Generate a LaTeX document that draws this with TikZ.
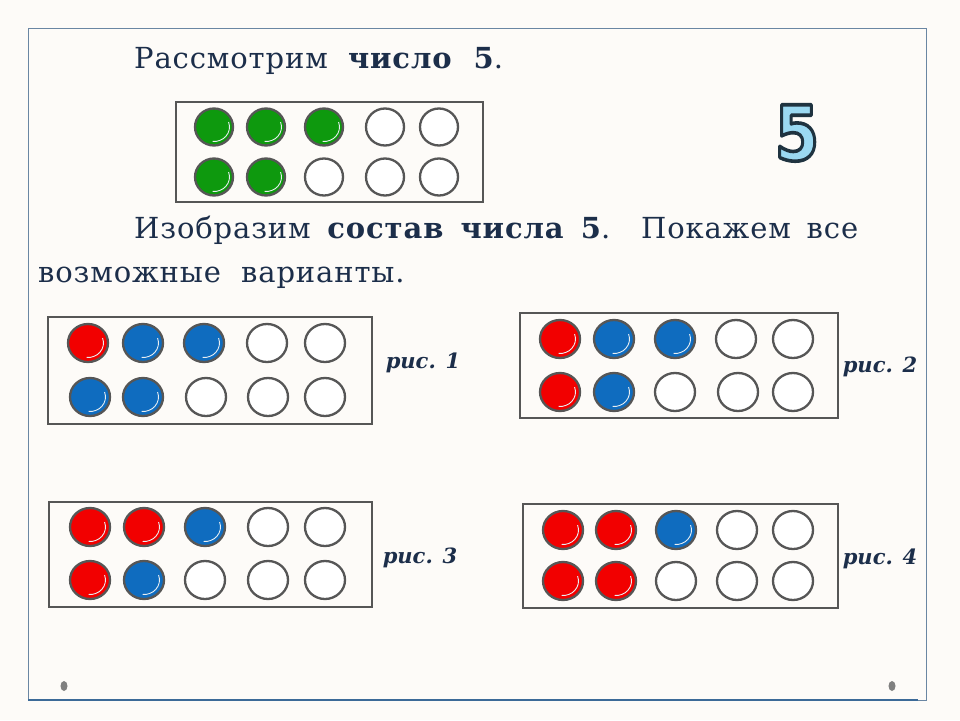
\documentclass[tikz,border=0pt]{standalone}
\usepackage{fontspec}
\setmainfont{DejaVu Serif}
\newfontfamily\bodyfont[LetterSpace=3]{DejaVu Serif}
\newfontfamily\numfont{DejaVu Sans}
\usetikzlibrary{shapes.geometric}
\definecolor{bg}{HTML}{FDFBF8}
\definecolor{framec}{HTML}{6A86A3}
\definecolor{framebot}{HTML}{3C6A98}
\definecolor{ink}{HTML}{1C2E4A}
\definecolor{rim}{HTML}{565656}
\definecolor{gr}{HTML}{0E990E}
\definecolor{rd}{HTML}{F20000}
\definecolor{bl}{HTML}{0F6CBF}
\definecolor{sky}{HTML}{9BD9F2}
\definecolor{dotc}{HTML}{808080}
\definecolor{W}{HTML}{FFFFFF}
\definecolor{shine}{HTML}{E8EEF2}
\newcommand\outlinedfive{{\color{sky}\special{pdf:code q 2 Tr 3.6 w 0.12 0.2 0.25 RG 1 j}5\special{pdf:code Q}}}
\begin{document}
\begin{tikzpicture}[x=1pt,y=-1pt,
  tenbox/.style={draw=rim,line width=2.3pt},
  chip/.style={ellipse,draw=rim,line width=2.3pt,minimum width=40pt,minimum height=38pt,inner sep=0pt},
  smallchip/.style={chip,minimum width=38pt,minimum height=37pt},
  shiny/.style={path picture={\draw[shine,line width=0.9pt]
      ([shift={(20:15.5pt and 14.5pt)}]path picture bounding box.center)
      arc[start angle=20,end angle=-95,x radius=15.5pt,y radius=14.5pt];}},
  body/.style={text=ink,inner sep=0pt,font=\fontsize{29}{35}\bodyfont},
  figcap/.style={text=ink,inner sep=0pt,font=\fontsize{21}{25}\selectfont\bfseries\itshape},
  pin/.style={ellipse,fill=dotc,minimum width=7pt,minimum height=10pt,inner sep=0pt}]
\fill[bg] (0,0) rectangle (960,720);
\useasboundingbox (0,0) rectangle (960,720);
% slide frame
\draw[framec,line width=1pt] (28,28) rectangle (926,700);
\draw[framebot,line width=2.2pt] (28,700) -- (918,700);
\node[pin] (dotl) at (64,686) {};
\node[pin] (dotr) at (892,686) {};
% texts
\node[body,anchor=base west] (title) at (134,68) {Рассмотрим\ \ \textbf{число\ \ 5}.};
\node[body,anchor=base west] (line1) at (134,238) {\makebox[724pt][s]{Изобразим \textbf{состав числа 5}. Покажем все}};
\node[body,anchor=base west] (line2) at (38,282) {возможные\ \ варианты.};
% number five icon
\node[inner sep=0pt,font=\fontsize{76}{76}\selectfont\numfont\bfseries] (five) at (797,133) {\scalebox{0.84}[1]{\outlinedfive}};
% green frame
\draw[tenbox] (176,102) rectangle (483,202);
\foreach \x/\c [count=\i] in {214/gr,266/gr,324/gr}
  \node[smallchip,fill=\c,shiny] (g1\i) at (\x,127) {};
\foreach \x [count=\i from 4] in {385,439}
  \node[smallchip,fill=W] (g1\i) at (\x,127) {};
\foreach \x/\c [count=\i] in {214/gr,266/gr}
  \node[smallchip,fill=\c,shiny] (g2\i) at (\x,177) {};
\foreach \x [count=\i from 3] in {324,385,439}
  \node[smallchip,fill=W] (g2\i) at (\x,177) {};
% frame 1
\draw[tenbox] (48,317) rectangle (372,424);
\foreach \x/\c [count=\i] in {88/rd,143/bl,204/bl}
  \node[chip,fill=\c,shiny] (a1\i) at (\x,343) {};
\foreach \x [count=\i from 4] in {267,325}
  \node[chip,fill=W] (a1\i) at (\x,343) {};
\foreach \x/\c [count=\i] in {90/bl,143/bl}
  \node[chip,fill=\c,shiny] (a2\i) at (\x,397) {};
\foreach \x [count=\i from 3] in {206,268,325}
  \node[chip,fill=W] (a2\i) at (\x,397) {};
\node[figcap,anchor=base] (cap1) at (423,368) {рис. 1};
% frame 2
\draw[tenbox] (520,313) rectangle (838,418);
\foreach \x/\c [count=\i] in {560/rd,614/bl,675/bl}
  \node[chip,fill=\c,shiny] (b1\i) at (\x,339) {};
\foreach \x [count=\i from 4] in {736,793}
  \node[chip,fill=W] (b1\i) at (\x,339) {};
\foreach \x/\c [count=\i] in {560/rd,614/bl}
  \node[chip,fill=\c,shiny] (b2\i) at (\x,392) {};
\foreach \x [count=\i from 3] in {675,738,793}
  \node[chip,fill=W] (b2\i) at (\x,392) {};
\node[figcap,anchor=base] (cap2) at (880,372) {рис. 2};
% frame 3
\draw[tenbox] (49,502) rectangle (372,607);
\foreach \x/\c [count=\i] in {90/rd,144/rd,205/bl}
  \node[chip,fill=\c,shiny] (c1\i) at (\x,527) {};
\foreach \x [count=\i from 4] in {268,325}
  \node[chip,fill=W] (c1\i) at (\x,527) {};
\foreach \x/\c [count=\i] in {90/rd,144/bl}
  \node[chip,fill=\c,shiny] (c2\i) at (\x,580) {};
\foreach \x [count=\i from 3] in {205,268,325}
  \node[chip,fill=W] (c2\i) at (\x,580) {};
\node[figcap,anchor=base] (cap3) at (420,563) {рис. 3};
% frame 4
\draw[tenbox] (523,504) rectangle (838,608);
\foreach \x/\c [count=\i] in {563/rd,616/rd,676/bl}
  \node[chip,fill=\c,shiny] (d1\i) at (\x,530) {};
\foreach \x [count=\i from 4] in {737,793}
  \node[chip,fill=W] (d1\i) at (\x,530) {};
\foreach \x/\c [count=\i] in {563/rd,616/rd}
  \node[chip,fill=\c,shiny] (d2\i) at (\x,581) {};
\foreach \x [count=\i from 3] in {676,737,793}
  \node[chip,fill=W] (d2\i) at (\x,581) {};
\node[figcap,anchor=base] (cap4) at (880,564) {рис. 4};
\end{tikzpicture}
\end{document}
